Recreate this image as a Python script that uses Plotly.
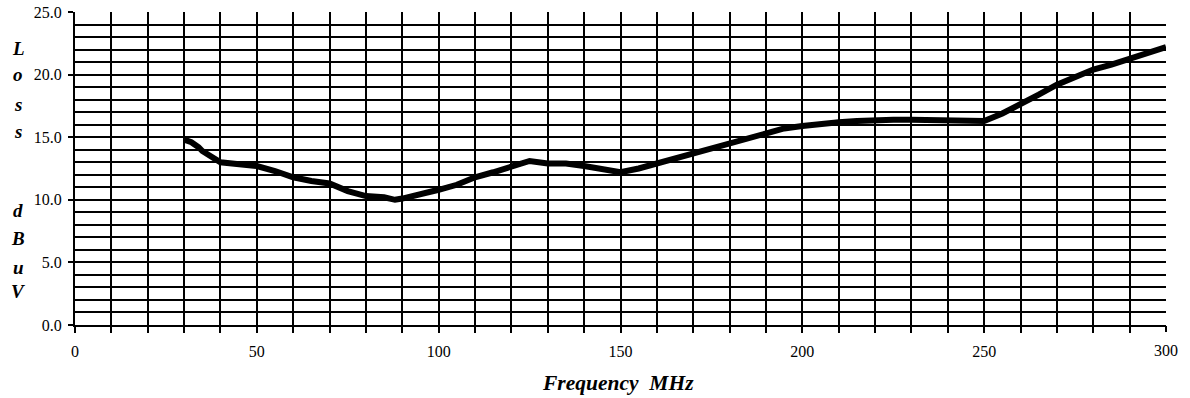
import plotly.graph_objects as go

freq_mhz = [30, 32, 34, 35, 40, 45, 50, 55, 60, 65, 70, 75, 80, 85, 88, 90, 95, 100,
            105, 110, 115, 120, 125, 130, 135, 140, 145, 150, 155, 160, 165, 170, 175,
            180, 185, 190, 195, 200, 205, 210, 215, 220, 225, 230, 235, 240, 245, 250,
            255, 260, 265, 270, 275, 280, 285, 290, 295, 300]
loss_dbuv = [14.8, 14.6, 14.2, 13.9, 13.0, 12.8, 12.7, 12.3, 11.8, 11.5, 11.3, 10.7, 10.3,
             10.2, 10.0, 10.1, 10.4, 10.8, 11.2, 11.8, 12.2, 12.6, 13.1, 12.9, 12.9, 12.7,
             12.4, 12.2, 12.5, 12.9, 13.3, 13.8, 14.2, 14.6, 15.0, 15.4, 15.7, 15.9, 16.1,
             16.2, 16.3, 16.4, 16.4, 16.4, 16.4, 16.4, 16.4, 16.3, 16.9, 17.6, 18.4, 19.2,
             19.8, 20.4, 20.8, 21.3, 21.8, 22.2]

x_grid_vals = list(range(0, 300, 10))
x_grid_text = [str(v) if v % 50 == 0 else "" for v in x_grid_vals]
x_end_vals = [300]
x_end_text = ["300"]

x_title = "Frequency\u00a0 MHz"
y_letters = ["L", "o", "s", "s", "d", "B", "u", "V"]
y_letter_px = [48, 75, 104, 131, 211, 238, 267, 291]

W, H = 1190, 398
PL, PR, PT, PB = 75, 1166, 12, 325          # plot area in page pixels
ML, MR, MT, MB = PL, W - PR, PT, H - PB

serif = "Liberation Serif, Times New Roman, serif"
fig = go.Figure()
fig.add_trace(go.Scatter(x=freq_mhz, y=loss_dbuv, mode="lines",
                         line=dict(color="black", width=6), showlegend=False,
                         hoverinfo="skip"))
fig.add_trace(go.Scatter(x=[300], y=[None], xaxis="x2", mode="lines",
                         showlegend=False, hoverinfo="skip"))

fig.update_layout(
    width=W, height=H,
    margin=dict(l=ML, r=MR, t=MT, b=MB, autoexpand=False),
    paper_bgcolor="white", plot_bgcolor="white",
    font=dict(family=serif, size=16, color="black"),
    xaxis=dict(range=[0, 300], tickmode="array", tickvals=x_grid_vals, ticktext=x_grid_text,
               showgrid=True, gridcolor="black", gridwidth=2,
               ticks="outside", ticklen=6, tickwidth=2, tickcolor="black",
               showline=True, linecolor="black", linewidth=2, zeroline=False,
               automargin=False, ticklabelstandoff=5),
    xaxis2=dict(range=[0, 300], overlaying="x", anchor="y", side="bottom",
                tickmode="array", tickvals=x_end_vals, ticktext=x_end_text,
                showgrid=False, ticks="outside", ticklen=6, tickwidth=2, tickcolor="black",
                showline=False, zeroline=False, automargin=False, ticklabelstandoff=5),
    yaxis=dict(range=[0, 25], dtick=5, tick0=0, tickformat=".1f", showgrid=True,
               gridcolor="black", gridwidth=2, ticks="outside", ticklen=5, tickwidth=2,
               tickcolor="black", showline=True, linecolor="black", linewidth=2,
               zeroline=False, ticklabelstandoff=3, automargin=False,
               minor=dict(dtick=1, showgrid=True, gridcolor="black", gridwidth=2)),
)

plot_w = PR - PL
plot_h = PB - PT


def px_to_paper_x(px):
    return (px - PL) / plot_w


def px_to_paper_y(py):
    return (PB - py) / plot_h


fig.add_annotation(text=x_title, xref="paper", yref="paper", x=px_to_paper_x(618),
                   y=px_to_paper_y(383), showarrow=False,
                   xanchor="center", yanchor="middle",
                   font=dict(size=21.5, family=serif, weight="bold", style="italic", color="black"))
for letter, py in zip(y_letters, y_letter_px):
    fig.add_annotation(text=letter, xref="paper", yref="paper",
                       x=px_to_paper_x(18), y=px_to_paper_y(py),
                       showarrow=False, xanchor="center", yanchor="middle",
                       font=dict(size=19, family=serif, weight="bold", style="italic", color="black"))

fig.write_html("out.html", config={"displayModeBar": False},
               post_script="document.body.style.margin='0';")
